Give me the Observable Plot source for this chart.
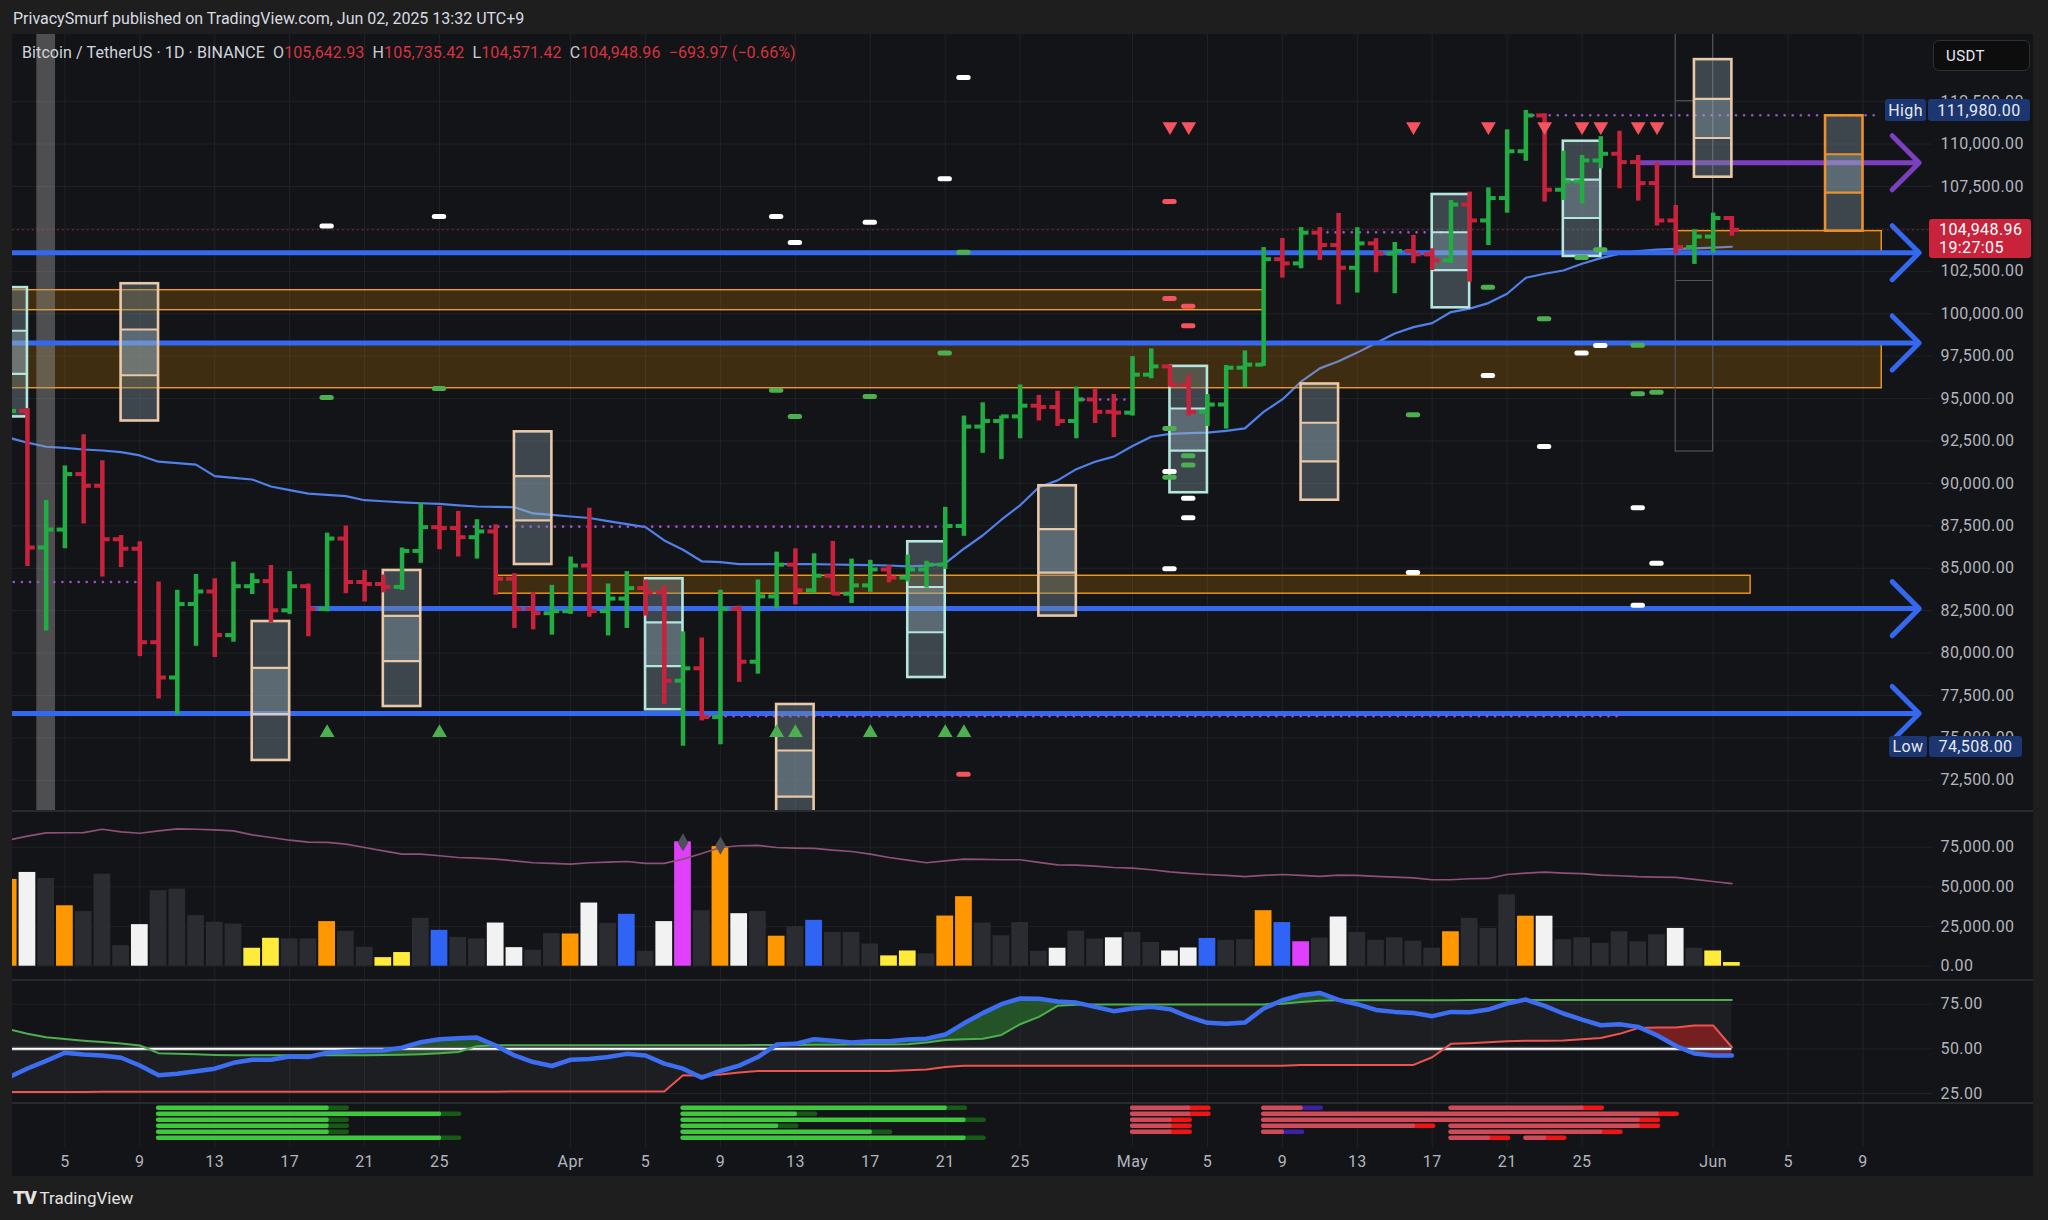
<!DOCTYPE html>
<html><head><meta charset="utf-8">
<script src="https://cdn.jsdelivr.net/npm/d3@7"></script>
<script src="https://cdn.jsdelivr.net/npm/@observablehq/plot@0.6"></script>
<style>
html,body{margin:0;padding:0;background:#1e1e1e;}
#root{position:relative;width:2048px;height:1220px;overflow:hidden;background:#1e1e1e;font-family:Roboto,"Noto Sans",sans-serif;}
#frame{position:absolute;left:12px;top:34px;width:2021px;height:1142px;background:#131417;}
.sep{position:absolute;left:12px;width:2021px;height:2px;background:#292a2e;}
#header{position:absolute;left:13px;top:9px;font-size:16px;color:#d8dbe2;white-space:pre;}
#legend{position:absolute;left:22px;top:43px;font-size:16px;letter-spacing:0.1px;color:#d1d4dc;white-space:pre;}
#legend .r{color:#d6333f;}
#legend .g{color:#c9ccd4;}
.tag{position:absolute;box-sizing:border-box;color:#fff;font-size:16px;letter-spacing:0.4px;border-radius:3px;display:flex;align-items:center;}
#logo{position:absolute;left:13px;top:1186px;font-size:17px;color:#e3e3e3;white-space:pre;}
svg{position:absolute;left:0;}
</style></head>
<body><div id="root"><div id="frame"></div></div>
<script>
// ---------------- DATA ----------------
const dates = d3.utcDay.range(new Date("2025-03-02T00:00:00Z"), new Date("2025-06-03T00:00:00Z"));
const open = [86050,94270,86220,87280,90550,89860,86710,86150,80640,78560,82890,83630,81060,83940,84240,82520,83940,82600,86750,84190,84070,83900,86020,87420,87370,86830,87170,84380,82600,82350,
82470,85160,82470,83210,83830,83580,78370,79100,76230,82600,79490,83340,85210,83700,84560,83500,83990,84930,84450,84930,85210,87490,93350,93680,93950,94580,94500,93680,94950,94220,
94170,96410,96900,95810,94220,94650,96820,97000,103220,102970,104780,104050,102710,104150,103550,103700,103500,103150,106440,105500,106820,109580,111690,107310,107800,109040,109430,108940,107700,105500,103930,
104550,105642.93];
const high = [95000,94420,89000,91030,92870,91330,86930,86560,84190,83700,84630,84380,85360,84680,85160,84800,84070,87070,87490,84870,84600,86190,88840,88640,88350,87860,87560,84680,83580,83990,
85660,88540,84070,84800,84310,83940,81250,80890,83700,82770,84310,85950,86150,85850,86580,85540,85470,85160,85780,85410,88590,93970,94750,93970,95800,95190,95430,95680,95560,95240,
97470,97930,96950,96370,95240,96950,97810,103900,104440,105080,105080,105910,105070,104430,104200,104620,103830,106680,107170,107420,110840,111980,111790,109580,109330,110440,110760,109330,108880,106380,104950,
105930,105735.42];
const low = [85050,85100,81300,86150,87610,84480,85040,79790,77290,76360,80400,79740,80640,83450,81790,82280,80960,82430,83500,83010,83550,83700,85290,86090,85660,85540,83410,81450,81370,81060,
82280,82110,81010,81450,82180,76970,74508,76000,74600,78270,78760,82600,82840,83500,83410,82920,83580,84140,84190,83830,84930,86880,91770,91410,92630,93680,93360,92630,93530,92700,
93970,96170,95680,93970,93360,93200,95640,96900,102100,102650,103140,100530,101220,102420,101180,102950,102550,102970,101860,104020,105930,108990,106580,106680,106480,108540,107370,106640,105170,103500,102910,
103570,104571.42];
const close = [94270,86220,87280,90550,89860,86710,86150,80640,78560,82890,83630,81060,83940,84240,82520,83940,82600,86750,84190,84070,83900,86020,87420,87370,86830,87170,84380,82600,82350,82470,
85160,82470,83210,83830,83580,78370,79100,76230,82600,79490,83340,85210,83700,84560,83500,83990,84930,84450,84930,85210,87490,93350,93680,93950,94580,94500,93680,94950,94220,94170,
96410,96900,95810,94220,94650,96820,97000,103220,102970,104780,104050,102710,104150,103550,103700,103500,103150,106440,105500,106820,109580,111690,107310,107800,109040,109430,108940,107700,105500,103930,104550,
105642.93,104948.96];
const sma = [92700,92400,92160,92090,92000,91940,91840,91650,91280,91200,91110,90430,90330,90230,89820,89600,89400,89320,89250,89010,88950,88880,88830,88790,88710,88640,88620,88595,88230,88140,
88050,87960,87780,87600,87420,86640,86090,85410,85360,85240,85240,85240,85240,85240,85220,85200,85180,85160,85110,85150,85290,86150,86930,87860,88710,89770,90180,90840,91280,91580,
92210,92750,92920,92960,92990,93100,93240,94220,94950,96000,96780,97200,97710,98280,98840,99210,99450,100100,100300,100630,101180,102120,102360,102550,102950,103280,103540,103700,103780,103830,103860,
103900,103950];
const volume = [54700,59100,55300,38100,34400,58000,13000,26200,47600,48600,31900,27700,26600,11300,17600,17200,17200,28100,22000,11900,5400,8600,30200,22600,18200,17200,27200,11700,10100,20500,
20300,39800,27000,32700,9400,28100,78400,35000,75400,33100,34400,18900,24900,28900,21200,21200,14000,6500,9600,7800,31600,43800,27200,19200,27500,9400,11300,22100,17100,17900,
21300,15000,9600,11500,17500,16300,16700,35000,27500,15400,17700,31000,21300,16300,17900,15800,11300,21700,30200,23800,45000,31500,31500,16700,17900,14400,21700,15400,19800,23800,11300,
9600,2300];
const volKind = ("owdodddwdddddyyddoddyydbddwwdd" + "owdbdwmdowdodbdddyydooddddwddw" + "ddwwbddobmdwdddddodddowddddddwd" + "yy").split("");
const volMA = [79400,82000,84000,84100,84200,86300,84700,83800,85300,86500,86300,85900,85300,82800,81100,79400,78200,78000,76900,74800,72700,70600,70600,69600,68500,68100,67500,66400,65200,64800,
64300,65200,65600,66000,64800,64800,67500,71000,74800,75900,76100,74800,74400,74200,73100,72300,70600,68500,66800,65200,66400,67500,67300,67100,67100,65400,63900,63700,63100,62200,
61800,60800,59500,58500,57800,57200,56400,57200,57800,57200,56600,57400,57200,56600,56200,55700,54500,54500,55100,55300,57800,58700,59300,58700,58300,57400,57000,56400,56200,56000,54700,
53400,52000];
const volDiamondDates = ["2025-04-07","2025-04-09"];
const volDiamondValue = [78000,76000];
const rsiBlue = [34.0,39.0,43.3,47.8,46.9,46.3,45.0,40.7,35.2,36.1,37.4,38.9,42.2,43.9,43.9,45.7,45.4,47.8,48.5,48.9,49.1,50.7,53.7,55.4,55.9,56.3,51.9,46.3,42.6,40.4,
43.9,44.3,45.4,47.2,46.3,41.7,38.9,33.9,37.6,40.6,45.4,52.4,52.8,55.4,54.6,53.5,54.3,54.3,55.2,55.7,58.0,64.3,70.0,75.0,78.2,78.0,76.5,75.9,73.5,71.1,
72.6,73.5,72.2,67.9,64.6,64.0,64.7,72.6,77.2,80.0,81.3,77.4,75.0,71.8,70.7,70.1,68.3,70.7,70.5,72.0,75.4,77.6,74.1,69.8,66.4,63.2,63.8,62.3,57.6,51.7,47.4,
46.3,46.3];
const rsiGreen = [61.0,58.5,56.5,55.5,54.6,53.8,53.0,51.9,47.6,47.2,47.0,46.6,46.4,46.4,46.4,46.4,46.4,46.4,46.4,46.4,46.5,46.7,47.0,47.5,48.2,51.5,52.0,52.0,52.0,52.0,
52.0,52.0,52.0,52.0,52.0,52.0,52.0,52.0,52.0,52.0,52.1,52.2,52.2,52.3,52.3,52.4,52.4,52.5,52.6,53.5,55.0,55.4,55.6,57.8,63.8,67.9,74.1,74.7,74.8,74.8,
74.8,74.8,74.8,74.8,74.8,74.8,74.8,74.9,75.3,76.2,77.0,77.2,77.2,77.2,77.2,77.2,77.2,77.2,77.3,77.3,77.3,77.3,77.3,77.3,77.3,77.3,77.3,77.3,77.4,77.4,77.4,
77.4,77.3];
const rsiRed = [25.8,25.8,25.9,25.9,25.9,26.0,26.0,26.0,26.0,26.0,26.0,26.0,26.0,26.0,26.0,26.0,26.0,26.0,26.0,26.0,26.0,26.0,26.0,26.0,26.0,26.0,26.0,26.1,26.1,26.1,
26.1,26.1,26.1,26.1,26.1,26.1,35.2,35.0,35.7,36.8,37.6,37.6,37.6,37.6,37.6,37.6,37.6,37.6,38.0,38.5,39.8,40.5,40.5,40.5,40.5,40.5,40.5,40.5,40.5,40.5,
40.5,40.5,40.5,40.5,40.5,40.5,40.5,40.5,40.5,41.0,41.0,41.0,41.0,41.0,41.0,41.0,45.3,52.8,53.2,53.7,54.3,54.5,54.6,54.7,55.4,56.1,58.4,61.7,61.9,61.9,63.1,
63.1,50.9];
const rsiMid = 50;

const priceTicks = d3.range(72500, 112501, 2500);
const volTicks = [0, 25000, 50000, 75000];
const rsiTicks = [25, 50, 75];
const tickDates = ["2025-03-05","2025-03-09","2025-03-13","2025-03-17","2025-03-21","2025-03-25","2025-04-01","2025-04-05","2025-04-09","2025-04-13","2025-04-17","2025-04-21","2025-04-25","2025-05-01","2025-05-05","2025-05-09","2025-05-13","2025-05-17","2025-05-21","2025-05-25","2025-06-01","2025-06-05","2025-06-09"];

// levels
const zoneStart = ["2025-03-01","2025-03-01","2025-03-28","2025-05-30"];
const zoneEnd   = ["2025-05-08","2025-06-10","2025-06-03","2025-06-10"];
const zoneTop   = [101390, 98300, 84556, 104870];
const zoneBot   = [100210, 95610, 83500, 103570];
const lineStart = ["2025-03-01","2025-03-01","2025-03-18","2025-03-01","2025-05-28"];
const linePrice = [103600, 98280, 82620, 76440, 108900];
const lineKind  = ["blue","blue","blue","blue","purple"];
const lineEndDate = "2025-06-12";
const dotStart = ["2025-03-01","2025-03-26","2025-04-08","2025-05-22","2025-04-28","2025-05-11"];
const dotEnd   = ["2025-03-09","2025-04-21","2025-05-27","2025-06-10","2025-05-01","2025-05-18"];
const dotPrice = [84190, 87450, 76280, 111700, 94950, 104800];
const highlightDate = ["2025-03-04"];
const lastPrice = 104948.96, highPrice = 111980, lowPrice = 74508;

// weekly 3-part boxes
const boxCenter = ["2025-03-02","2025-03-09","2025-03-16","2025-03-23","2025-03-30","2025-04-06","2025-04-13","2025-04-20","2025-04-27","2025-05-04","2025-05-11","2025-05-18","2025-05-25","2025-06-01","2025-06-08"];
const boxTop = [101540,101770,81860,84870,93040,84380,76970,86560,89860,96900,95860,107030,110170,114980,111670];
const boxBot = [93920,93680,73670,76850,85220,76660,68830,78560,82180,89450,89010,100350,103380,108050,104870];
const boxEdge = ["cyan","beige","beige","beige","beige","cyan","beige","cyan","beige","cyan","beige","cyan","cyan","beige","orange"];
// session outline
const sessStart = "2025-05-30", sessEnd = "2025-06-01", sessLow = 91880, sessMid = 101960, sessHigh = 112560, sessHighEnd = "2025-05-31";

// markers
const whiteDashDate = ["2025-03-19","2025-03-25","2025-04-12","2025-04-13","2025-04-17","2025-04-21","2025-04-22","2025-05-03","2025-05-03","2025-05-04","2025-05-04","2025-05-16","2025-05-20","2025-05-23","2025-05-25","2025-05-26","2025-05-28","2025-05-29","2025-05-28"];
const whiteDashPrice = [105175,105735,105735,104200,105390,107960,113930,90700,84970,89130,87980,84750,96360,92180,97680,98130,88560,85290,82820];
const greenDashDate = ["2025-03-19","2025-03-25","2025-04-12","2025-04-13","2025-04-17","2025-04-21","2025-04-22","2025-05-03","2025-05-03","2025-05-04","2025-05-04","2025-05-16","2025-05-20","2025-05-23","2025-05-25","2025-05-26","2025-05-28","2025-05-28","2025-05-29"];
const greenDashPrice = [95060,95600,95490,93945,95125,97690,103630,93240,90370,91630,91090,94050,101570,99700,103320,103770,98150,95280,95380];
const redDashDate = ["2025-05-03","2025-05-03","2025-05-04","2025-05-04","2025-04-22"];
const redDashPrice = [106620,100900,100450,99300,72860];
const upTriDate = ["2025-03-19","2025-03-25","2025-04-12","2025-04-13","2025-04-17","2025-04-21","2025-04-22"];
const upTriPrice = 75300;
const downTriDate = ["2025-05-03","2025-05-04","2025-05-16","2025-05-20","2025-05-23","2025-05-25","2025-05-26","2025-05-28","2025-05-29"];
const downTriPrice = 111040;

// signal duration bars (bottom pane)
const sigStart = ["2025-03-10","2025-03-10","2025-03-10","2025-03-10","2025-03-10","2025-03-10",
  "2025-04-07","2025-04-07","2025-04-07","2025-04-07","2025-04-07","2025-04-07",
  "2025-05-01","2025-05-01","2025-05-01","2025-05-01","2025-05-01",
  "2025-05-08","2025-05-08","2025-05-08","2025-05-08","2025-05-08",
  "2025-05-18","2025-05-18","2025-05-18","2025-05-18","2025-05-22"];
const sigEnd = ["2025-03-19","2025-03-25","2025-03-19","2025-03-19","2025-03-19","2025-03-25",
  "2025-04-21","2025-04-13","2025-04-22","2025-04-12","2025-04-17","2025-04-22",
  "2025-05-04","2025-05-04","2025-05-03","2025-05-03","2025-05-03",
  "2025-05-10","2025-05-29","2025-05-28","2025-05-16","2025-05-09",
  "2025-05-25","2025-05-28","2025-05-26","2025-05-20","2025-05-23"];
const sigRow = [0,1,2,3,4,5, 0,1,2,3,4,5, 0,1,2,3,4, 0,1,2,3,4, 0,3,4,5,5];
const sigKind = ["bull","bull","bull","bull","bull","bull","bull","bull","bull","bull","bull","bull",
  "bear","bear","bear","bear","bear","bearP","bear","bear","bear","bearP","bear","bear","bear","bear","bear"];

// ---------------- STYLE ----------------
const FONT = "Roboto, 'Noto Sans', sans-serif";
const GRID = "#202226";
const UP = "#22ad44", DN = "#c8223c";
const X0 = new Date("2025-03-05T00:00:00Z"), X1 = new Date("2025-06-09T00:00:00Z");
const XR = [64.4, 1862.5];
const day = s => new Date(s + "T00:00:00Z");
const hrs = (d, h) => new Date(+d + h * 3600e3);
const fmt2 = d3.format(",.2f");
const tDates = tickDates.map(day);
const tickFmt = d => d.getUTCDate() === 1 ? d3.utcFormat("%b")(d) : String(d.getUTCDate());
const VCOL = {d:"#2a2c31", w:"#f2f2f2", o:"#ff9800", y:"#ffeb3b", b:"#2f64f5", m:"#e040fb"};
const EDGE = {cyan:"#b4e6de", beige:"#e9c8a8", orange:"#e8912d"};
const LCOL = {blue:"#3468f0", purple:"#7b3fbf"};
const base = (h, extra) => Object.assign({
  width: 2048, height: h, marginLeft: 12, marginRight: 116, marginTop: 0, marginBottom: 0,
  x: {type: "utc", domain: [X0, X1], range: XR, axis: null},
  color: {type: "identity"},
  style: {background: "transparent", color: "#b2b5be", fontFamily: FONT, fontSize: "16px", overflow: "visible"}
}, extra);

const root = document.getElementById("root");
function place(svg, top) { svg.style.position = "absolute"; svg.style.left = "0px"; svg.style.top = top + "px"; svg.style.letterSpacing = "0.4px"; root.appendChild(svg); return svg; }

// ---------------- PRICE PANE ----------------
const candles = dates.map((d, i) => ({date: d, o: open[i], h: high[i], l: low[i], c: close[i]}));
const ccol = d => d.c >= d.o ? UP : DN;
const smaData = dates.map((d, i) => ({date: d, v: sma[i]}));
const zones = zoneStart.map((s, i) => ({x1: day(s), x2: day(zoneEnd[i]), y1: zoneTop[i], y2: zoneBot[i]}));
const lines = lineStart.map((s, i) => ({x1: day(s), x2: day(lineEndDate), p: linePrice[i], c: LCOL[lineKind[i]]}));
const dots = dotStart.map((s, i) => ({x1: day(s), x2: day(dotEnd[i]), p: dotPrice[i]}));
const boxes = boxCenter.map((c, i) => ({x1: hrs(day(c), -24), x2: hrs(day(c), 24), top: boxTop[i], bot: boxBot[i], e: EDGE[boxEdge[i]]}));
const boxSegs = boxes.flatMap(b => [0, 1, 2].map(k => ({x1: b.x1, x2: b.x2, y1: b.top - (b.top - b.bot) * k / 3, y2: b.top - (b.top - b.bot) * (k + 1) / 3, mid: k === 1, e: b.e})));
const boxDivs = boxSegs.filter((s, i) => i % 3 !== 0);
const mk = (ds, ps) => ds.map((d, i) => ({date: day(d), p: Array.isArray(ps) ? ps[i] : ps}));
const whites = mk(whiteDashDate, whiteDashPrice), greens = mk(greenDashDate, greenDashPrice), reds = mk(redDashDate, redDashPrice);
const ups = mk(upTriDate, upTriPrice), downs = mk(downTriDate, downTriPrice);
const chevron = {draw(ctx) { ctx.moveTo(-27, -27); ctx.lineTo(0, 0); ctx.lineTo(-27, 27); }};
const dash = (data, color) => Plot.ruleY(data, {y: "p", x1: d => hrs(d.date, -6), x2: d => hrs(d.date, 6), stroke: color, strokeWidth: 5, strokeLinecap: "round", clip: true});

const pricePlot = Plot.plot(base(778, {
  y: {domain: [72500, 112500], range: [745.8, 67.2]},
  marks: [
    Plot.gridY(priceTicks, {stroke: GRID, strokeOpacity: 1}),
    Plot.gridX(tDates, {stroke: GRID, strokeOpacity: 1}),
    Plot.line(smaData, {x: "date", y: "v", stroke: "#5080ea", strokeWidth: 2.2, clip: true}),
    Plot.rect(zones, {x1: "x1", x2: "x2", y1: "y1", y2: "y2", fill: "#ff9800", fillOpacity: 0.19, stroke: "#f59a1c", strokeWidth: 1.4, clip: true}),
    Plot.rect(highlightDate.map(day), {x1: d => hrs(d, -12), x2: d => hrs(d, 12), y1: 60000, y2: 130000, fill: "#a0a0a0", fillOpacity: 0.42, clip: true}),
    Plot.rect([0], {x1: () => day(sessStart), x2: () => day(sessEnd), y1: () => sessLow, y2: () => 125000, fill: "none", stroke: "#50535a", strokeWidth: 1.2, clip: true}),
    Plot.ruleY([sessMid], {x1: () => day(sessStart), x2: () => day(sessEnd), stroke: "#50535a", strokeWidth: 1.2}),
    Plot.ruleY([sessHigh], {x1: () => day(sessStart), x2: () => day(sessHighEnd), stroke: "#50535a", strokeWidth: 1.2}),
    Plot.ruleY(lines, {y: "p", x1: "x1", x2: "x2", stroke: "c", strokeWidth: 5, clip: true}),
    Plot.dot(lines, {x: "x2", y: "p", symbol: chevron, r: 10, fill: "none", stroke: "c", strokeWidth: 5, strokeLinecap: "round", strokeLinejoin: "round", clip: true}),
    Plot.ruleY(dots, {y: "p", x1: "x1", x2: "x2", stroke: "#9a4fc8", strokeWidth: 2.6, strokeDasharray: "0.1,8", strokeLinecap: "round", clip: true}),
    Plot.ruleY([lastPrice], {stroke: "#f23645", strokeOpacity: 0.6, strokeWidth: 1, strokeDasharray: "1.5,3.5"}),
    Plot.rect(boxSegs, {x1: "x1", x2: "x2", y1: "y1", y2: "y2", fill: d => d.mid ? "#96afbe" : "#788c96", fillOpacity: d => d.mid ? 0.55 : 0.42, clip: true}),
    Plot.ruleY(boxDivs, {y: "y1", x1: "x1", x2: "x2", stroke: "e", strokeWidth: 2.2, clip: true}),
    Plot.rect(boxes, {x1: "x1", x2: "x2", y1: "top", y2: "bot", fill: "none", stroke: "e", strokeWidth: 2.6, clip: true}),
    Plot.ruleX(candles, {x: "date", y1: "l", y2: "h", stroke: ccol, strokeWidth: 4.5, clip: true}),
    Plot.ruleY(candles, {y: "o", x1: d => hrs(d.date, -10), x2: "date", stroke: ccol, strokeWidth: 4, clip: true}),
    Plot.ruleY(candles, {y: "c", x1: "date", x2: d => hrs(d.date, 10), stroke: ccol, strokeWidth: 4, clip: true}),
    dash(whites, "#ffffff"), dash(greens, "#4caf50"), dash(reds, "#f7525f"),
    Plot.dot(ups, {x: "date", y: "p", symbol: "triangle", r: 5.5, fill: "#4caf50", stroke: "none"}),
    Plot.dot(downs, {x: "date", y: "p", symbol: "triangle", rotate: 180, r: 5.5, fill: "#f7525f", stroke: "none"}),
    Plot.axisY(priceTicks, {anchor: "right", tickSize: 0, tickPadding: 8, tickFormat: fmt2, textAnchor: "start"})
  ]
}));
place(pricePlot, 34);

// ---------------- VOLUME PANE ----------------
const volData = dates.map((d, i) => ({date: d, v: volume[i], k: volKind[i], ma: volMA[i]}));
const volPlot = Plot.plot(base(169, {
  y: {domain: [0, 75000], range: [154.7, 35.7]},
  marks: [
    Plot.gridY(volTicks, {stroke: GRID, strokeOpacity: 1}),
    Plot.gridX(tDates, {stroke: GRID, strokeOpacity: 1}),
    Plot.rect(volData, {x1: d => hrs(d.date, -12), x2: d => hrs(d.date, 12), y1: 0, y2: "v", fill: d => VCOL[d.k], insetLeft: 1, insetRight: 1, clip: true}),
    Plot.line(volData, {x: "date", y: "ma", stroke: "#8e5077", strokeWidth: 1.7, clip: true}),
    Plot.dot(volDiamondDates.map((s, i) => ({date: day(s), v: volDiamondValue[i]})), {x: "date", y: "v", symbol: "diamond", r: 5.5, fill: "#4d5058", stroke: "none"}),
    Plot.axisY(volTicks, {anchor: "right", tickSize: 0, tickPadding: 8, tickFormat: fmt2, textAnchor: "start"})
  ]
}));
place(volPlot, 811);

// ---------------- RSI PANE ----------------
const rsiData = dates.map((d, i) => ({date: d, b: rsiBlue[i], g: rsiGreen[i], r: rsiRed[i]}));
const rsiPlot = Plot.plot(base(123, {
  y: {domain: [25, 75], range: [113, 23.7]},
  marks: [
    Plot.gridY(rsiTicks, {stroke: GRID, strokeOpacity: 1}),
    Plot.gridX(tDates, {stroke: GRID, strokeOpacity: 1}),
    Plot.areaY(rsiData, {x: "date", y1: "r", y2: "g", fill: "#ffffff", fillOpacity: 0.045, clip: true}),
    Plot.areaY(rsiData, {x: "date", y1: "g", y2: d => Math.max(d.b, d.g), fill: "#2e7d32", fillOpacity: 0.6, clip: true}),
    Plot.areaY(rsiData, {x: "date", y1: d => Math.min(d.b, d.r), y2: "r", fill: "#c62828", fillOpacity: 0.55, clip: true}),
    Plot.ruleY([rsiMid], {x1: () => dates[0], x2: () => dates[dates.length - 1], stroke: "#5f6168", strokeWidth: 4, clip: true}),
    Plot.ruleY([rsiMid], {x1: () => dates[0], x2: () => dates[dates.length - 1], stroke: "#ffffff", strokeWidth: 1.6, clip: true}),
    Plot.line(rsiData, {x: "date", y: "r", stroke: "#ef5350", strokeWidth: 2, clip: true}),
    Plot.line(rsiData, {x: "date", y: "g", stroke: "#4caf50", strokeWidth: 2, clip: true}),
    Plot.line(rsiData, {x: "date", y: "b", stroke: "#3d6ef2", strokeWidth: 4.5, clip: true}),
    Plot.axisY(rsiTicks, {anchor: "right", tickSize: 0, tickPadding: 8, tickFormat: d3.format(".2f"), textAnchor: "start"})
  ]
}));
place(rsiPlot, 980);

// ---------------- SIGNAL BARS + X AXIS ----------------
const SIGC = {bull: ["#3ec83e", "#175a17"], bear: ["#cf4b5a", "#f01414"], bearP: ["#cf4b5a", "#3c22a0"]};
const sigs = sigStart.map((s, i) => ({x1: day(s), x2: day(sigEnd[i]), t2: hrs(day(sigEnd[i]), 26), row: sigRow[i], main: SIGC[sigKind[i]][0], tail: SIGC[sigKind[i]][1]}));
const sigPlot = Plot.plot(base(73, {
  marginBottom: 29,
  y: {domain: [0, 5], range: [4.3, 34.3], axis: null},
  marks: [
    Plot.gridX(tDates, {stroke: GRID, strokeOpacity: 1}),
    Plot.ruleY(sigs, {y: "row", x1: "x2", x2: "t2", stroke: "tail", strokeWidth: 4.4, strokeLinecap: "round"}),
    Plot.ruleY(sigs, {y: "row", x1: "x1", x2: "x2", stroke: "main", strokeWidth: 4.4, strokeLinecap: "round"}),
    Plot.axisX(tDates, {anchor: "bottom", tickSize: 0, tickPadding: 8, tickFormat: tickFmt})
  ]
}));
place(sigPlot, 1103);

// separators
[810, 979, 1102].forEach(t => { const s = document.createElement("div"); s.className = "sep"; s.style.top = t + "px"; root.appendChild(s); });

// ---------------- TEXT / LABELS ----------------
function el(html, cls, css) { const e = document.createElement("div"); if (cls) e.className = cls; e.innerHTML = html; Object.assign(e.style, css || {}); root.appendChild(e); return e; }
el("PrivacySmurf published on TradingView.com, Jun 02, 2025 13:32 UTC+9", null, {}).id = "header";
const o = open[open.length-1], c = close[close.length-1];
const lg = el(`Bitcoin / TetherUS · 1D · BINANCE  <span class="g">O</span><span class="r">${fmt2(o)}</span>  <span class="g">H</span><span class="r">${fmt2(high[high.length-1])}</span>  <span class="g">L</span><span class="r">${fmt2(low[low.length-1])}</span>  <span class="g">C</span><span class="r">${fmt2(c)}</span>  <span class="r">−${fmt2(o-c)} (−${(100*(o-c)/o).toFixed(2)}%)</span>`, null, {});
lg.id = "legend";
el(`<span style="font-weight:900;font-size:19px;letter-spacing:-1px;">TV</span> TradingView`, null, {}).id = "logo";

const yP = pricePlot.scale("y");
const yHigh = 34 + yP.apply(highPrice), yLow = 34 + yP.apply(lowPrice), yLast = 34 + yP.apply(lastPrice);
const NAVY = "#1b3670";
el("High", "tag", {left: "1885px", top: (yHigh - 11) + "px", width: "41px", height: "22px", background: NAVY, justifyContent: "center", color: "#e6e9f0"});
el(fmt2(highPrice), "tag", {left: "1928px", top: (yHigh - 11) + "px", width: "102px", height: "22px", background: NAVY, justifyContent: "center", color: "#e6e9f0"});
el("Low", "tag", {left: "1889px", top: (yLow - 10) + "px", width: "38px", height: "21px", background: NAVY, justifyContent: "center", color: "#e6e9f0"});
el(fmt2(lowPrice), "tag", {left: "1929px", top: (yLow - 10) + "px", width: "93px", height: "21px", background: NAVY, justifyContent: "center", color: "#e6e9f0"});
el(`<div style="line-height:18px;padding-left:10px">${fmt2(lastPrice)}<br>19:27:05</div>`, "tag", {left: "1929px", top: (yLast - 10) + "px", width: "102px", height: "39px", background: "#c8233a"});
el("USDT", "tag", {left: "1933px", top: "40px", width: "97px", height: "31px", background: "#0d0d0e", border: "1px solid #2f3136", borderRadius: "6px", paddingLeft: "12px", color: "#e6e9f0", fontSize: "15px"});
</script>
</body></html>
